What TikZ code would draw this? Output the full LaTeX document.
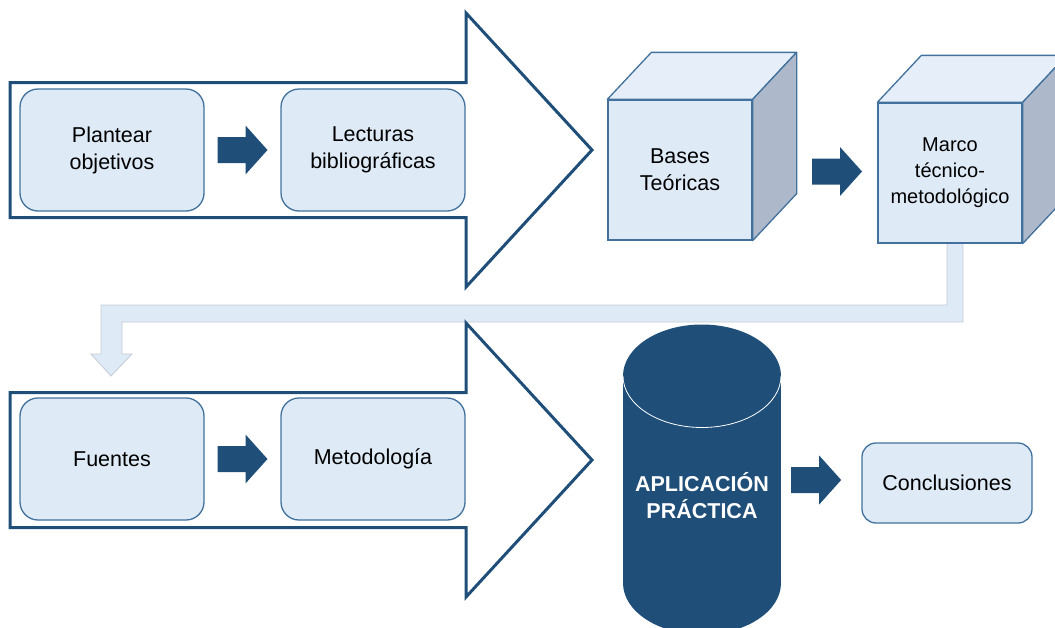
\documentclass[tikz,border=0pt]{standalone}
\usepackage{fontspec}
\setmainfont{Liberation Sans}
\usetikzlibrary{calc}

\definecolor{navy}{HTML}{1F4E79}
\definecolor{edgeblue}{HTML}{41719C}
\definecolor{paleblue}{HTML}{DEEBF7}
\definecolor{topblue}{HTML}{E6EFF9}
\definecolor{sidegray}{HTML}{ADB9CA}
\definecolor{bandedge}{HTML}{C3CBD4}

\begin{document}
\begin{tikzpicture}[x=1pt, y=-1pt,
    txt/.style={align=center, font=\fontsize{21.5}{27}\selectfont},
    stepbox/.style={txt, draw=edgeblue, line width=1.3pt, fill=paleblue,
      rounded corners=18pt, minimum width=184pt, minimum height=122pt},
    cubebox/.style={txt, draw=edgeblue, line width=1.3pt, fill=paleblue,
      minimum width=144pt, minimum height=140pt},
    face/.style={draw=edgeblue, line width=1.3pt, line join=round},
    fatarrow/.pic={\fill[navy] (-25,-13) -- (3,-13) -- (3,-24.5) -- (25,0)
      -- (3,24.5) -- (3,13) -- (-25,13) -- cycle;},
    bigarrow/.pic={\draw[navy, line width=3pt, line join=miter] (10,-67.5)
      -- (466,-67.5) -- (466,-137) -- (592,0) -- (466,137) -- (466,67.5)
      -- (10,67.5) -- cycle;}]
  \clip (0,0) rectangle (1055,627);

  % feedback band from the second cube down to the lower row
  \coordinate (bandtop) at (955,243);
  \coordinate (bandend) at (111,376);
  \filldraw[fill=paleblue, draw=bandedge, line width=0.8pt]
    ($(bandtop)+(-8,0)$) -- ($(bandtop)+(8,0)$) -- (963,322) -- (122,322)
    -- (122,354) -- (132,354) -- (bandend) -- (91,354) -- (101,354)
    -- (101,305) -- (947,305) -- cycle;

  % big outlined arrows
  \pic at (0,150) {bigarrow};
  \pic at (0,460) {bigarrow};

  % upper row
  \node[stepbox] (plantear) at (112,150) {Plantear\\objetivos};
  \node[stepbox] (lecturas) at (373,150) {Lecturas\\bibliográficas};
  \pic at ($(plantear.east)!0.5!(lecturas.west)$) {fatarrow};

  % cubes
  \node[cubebox] (bases) at (680,170) {};
  \filldraw[face, fill=topblue] (bases.north west) -- ++(44,-47)
    -- ($(bases.north east)+(44,-47)$) -- (bases.north east) -- cycle;
  \filldraw[face, fill=sidegray] (bases.north east) -- ++(44,-47)
    -- ($(bases.south east)+(44,-47)$) -- (bases.south east) -- cycle;
  \node[txt] at (bases) {Bases\\Teóricas};

  \node[cubebox, font=\fontsize{20}{26}\selectfont] (marco) at (950,173) {};
  \filldraw[face, fill=topblue] (marco.north west) -- ++(44,-47)
    -- ($(marco.north east)+(44,-47)$) -- (marco.north east) -- cycle;
  \filldraw[face, fill=sidegray] (marco.north east) -- ++(44,-47)
    -- ($(marco.south east)+(44,-47)$) -- (marco.south east) -- cycle;
  \node[txt, font=\fontsize{20}{26}\selectfont] at (marco)
    {Marco\\técnico-\\metodológico};
  \pic at ($(bases.east)!0.5!(marco.west)+(22,0)$) {fatarrow};

  % lower row
  \node[stepbox] (fuentes) at (112,459) {Fuentes};
  \node[stepbox] (metodo) at (373,459) {Metodología};
  \pic at ($(fuentes.east)!0.5!(metodo.west)$) {fatarrow};

  % cylinder
  \fill[navy] (623,376) rectangle (781,583);
  \fill[navy] (702,376) ellipse[x radius=79, y radius=51.5];
  \fill[navy] (702,583) ellipse[x radius=79, y radius=51.5];
  \draw[white, line width=0.8pt] (623,376)
    arc[start angle=180, end angle=0, x radius=79, y radius=51.5];
  \node[txt, text=white, font=\bfseries\fontsize{21.5}{27}\selectfont]
    (aplicacion) at (702,496) {APLICACIÓN\\PRÁCTICA};
  \coordinate (cylright) at (781,477);

  \node[stepbox, rounded corners=14pt, minimum width=170pt,
    minimum height=80pt] (conclusiones) at (947,483) {Conclusiones};
  \pic at ($(cylright)!0.5!(conclusiones.west)+(-5,0)$) {fatarrow};
\end{tikzpicture}
\end{document}
